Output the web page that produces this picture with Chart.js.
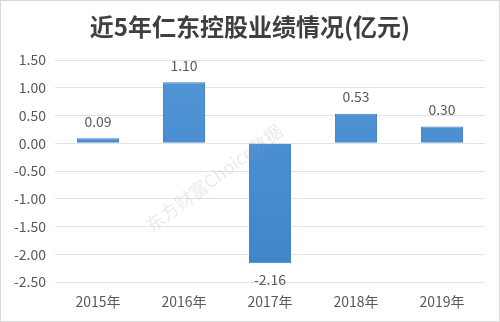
<!DOCTYPE html>
<html><head><meta charset="utf-8">
<script src="https://cdn.jsdelivr.net/npm/chart.js@4/dist/chart.umd.min.js"></script>
<style>html,body{margin:0;padding:0;background:#fff;}#wrap{width:500px;height:322px;position:relative;}</style>
</head><body><div id="wrap"><canvas id="c" width="500" height="322"></canvas></div>
<script>
const categories = ['2015年','2016年','2017年','2018年','2019年'];
const profits = [0.09, 1.10, -2.16, 0.53, 0.30];
const yTicks = [-2.5, -2.0, -1.5, -1.0, -0.5, 0, 0.5, 1.0, 1.5];
const titleText = '近5年仁东控股业绩情况(亿元)';
const watermark = '东方财富Choice数据';

const FONT = "'Noto Sans CJK SC', 'Noto Sans', sans-serif";

const deco = {
  id: 'deco',
  beforeDraw(chart) {
    const ctx = chart.ctx;
    ctx.save();
    ctx.fillStyle = '#fff';
    ctx.fillRect(0, 0, chart.width, chart.height);
    ctx.restore();
  },
  afterDatasetsDraw(chart) {
    const ctx = chart.ctx;
    const meta = chart.getDatasetMeta(0);
    ctx.save();
    ctx.font = "14px " + FONT;
    ctx.fillStyle = '#595959';
    ctx.textAlign = 'center';
    ctx.textBaseline = 'middle';
    meta.data.forEach((bar, i) => {
      const v = profits[i];
      const y = v >= 0 ? bar.y - 17 : bar.y + 17;
      ctx.fillText(v.toFixed(2), bar.x, y);
    });
    // watermark
    ctx.translate(214, 178);
    ctx.rotate(-37 * Math.PI / 180);
    ctx.font = "18px " + FONT;
    ctx.fillStyle = 'rgba(150,160,175,0.22)';
    ctx.fillText(watermark, 0, 0);
    ctx.restore();
  },
  afterDraw(chart) {
    const ctx = chart.ctx;
    ctx.save();
    ctx.font = "bold 24px " + FONT;
    ctx.fillStyle = '#3f3f3f';
    ctx.textAlign = 'center';
    ctx.textBaseline = 'middle';
    ctx.fillText(titleText, 250, 27);
    ctx.strokeStyle = '#d9d9d9';
    ctx.lineWidth = 1;
    ctx.strokeRect(0.5, 0.5, chart.width - 1, chart.height - 1);
    ctx.restore();
  }
};

new Chart(document.getElementById('c'), {
  type: 'bar',
  data: {
    labels: categories,
    datasets: [{
      data: profits,
      backgroundColor: (c) => {
        const chart = c.chart;
        const area = chart.chartArea;
        if (!area) return '#4a8fd4';
        const g = chart.ctx.createLinearGradient(0, area.top, 0, area.bottom);
        g.addColorStop(0, '#5296d8');
        g.addColorStop(1, '#3f84c8');
        return g;
      },
      borderColor: '#3f7dbd',
      borderWidth: 1,
      categoryPercentage: 1.0,
      barPercentage: 0.49
    }]
  },
  options: {
    responsive: false,
    animation: false,
    devicePixelRatio: 1,
    layout: { padding: { top: 60, right: 15, bottom: 8, left: 0 } },
    plugins: { legend: { display: false }, title: { display: false }, tooltip: { enabled: false } },
    scales: {
      x: {
        grid: { display: false, drawTicks: false },
        border: { display: false },
        ticks: { color: '#595959', font: { family: FONT, size: 14 }, padding: 11 },
        afterFit(s) { s.height = 32; }
      },
      y: {
        min: -2.5, max: 1.5,
        afterBuildTicks(s) { s.ticks = yTicks.map(v => ({ value: v })); },
        grid: { color: '#e3e3e3', drawTicks: false },
        border: { display: false },
        ticks: { color: '#595959', font: { family: FONT, size: 14 }, padding: 9, callback: (v) => Number(v).toFixed(2) },
        afterFit(s) { s.width = 55; }
      }
    }
  },
  plugins: [deco]
});
</script></body></html>
